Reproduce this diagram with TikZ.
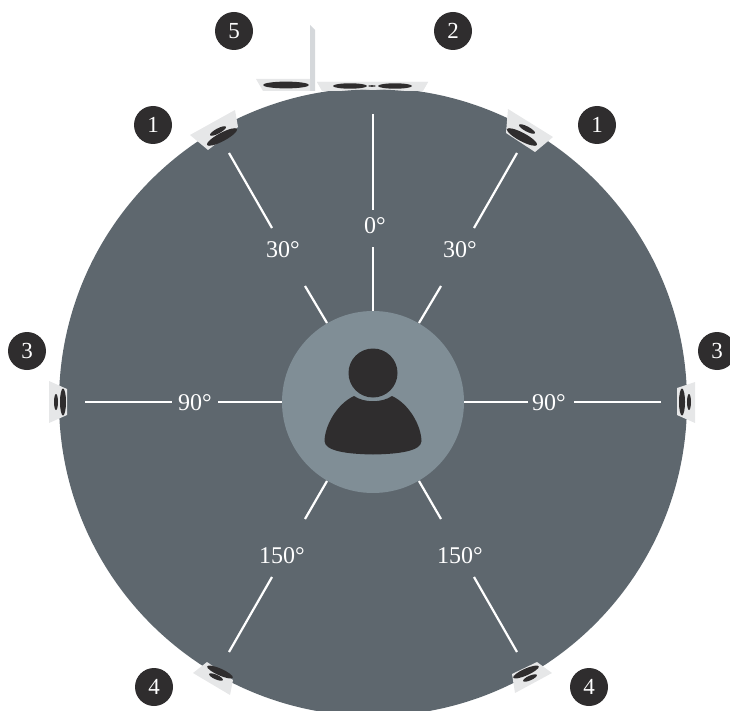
\documentclass[tikz,border=0pt]{standalone}
\usepackage{fontspec}
\setmainfont{Liberation Serif}
\definecolor{hall}{HTML}{5E676E}
\definecolor{seat}{HTML}{808E96}
\definecolor{ink}{HTML}{2F2D2E}
\definecolor{box}{HTML}{E6E7E8}
\definecolor{side}{HTML}{D5D8DB}
\tikzset{
  spk/.style={fill=box,draw=none},
  cone/.style={fill=ink,draw=none},
  spoke/.style={draw=white,line width=2.2pt},
  angle/.style={text=white,font=\fontsize{24}{24}\selectfont,inner sep=0pt},
  badge/.style={circle,fill=ink,text=white,minimum size=38pt,inner sep=0pt,font=\fontsize{23}{23}\selectfont}
}
\begin{document}
\begin{tikzpicture}[x=1pt,y=-1pt]
\useasboundingbox (0,0) rectangle (730,711);
\clip (0,0) rectangle (730,711);
% hall
\fill[hall] (373,402) circle[radius=314];
% speaker 5
\fill[side] (310,25) -- (315,30) -- (315,91) -- (310,91) -- cycle;
\fill[spk] (256,79) -- (310,79) -- (310,91) -- (263,91) -- cycle;
\fill[cone] (286,85) ellipse[x radius=23,y radius=3.4];
% speaker 2
\fill[spk] (317,82) -- (428,82) -- (423,91) -- (322,91) -- cycle;
\fill[hall] (373,402) circle[radius=312.5];
\fill[spk] (317,82) -- (428,82) -- (424,88.5) -- (400,88) -- (373,90) -- (346,88) -- (321,88.5) -- cycle;
\fill[cone] (350,86) ellipse[x radius=17,y radius=2.7];
\fill[cone] (395,86) ellipse[x radius=17,y radius=2.7];
\fill[cone] (372,86) ellipse[x radius=4,y radius=0.8];
% speakers 1
\fill[spk] (508,109) -- (553,137) -- (535,152) -- (506,133) -- cycle;
\fill[cone,rotate around={-28:(522,137)}] (522,137) ellipse[x radius=17,y radius=4.2];
\fill[cone,rotate around={-28:(527,129)}] (527,129) ellipse[x radius=9,y radius=2.5];
\fill[spk] (235,110) -- (238,127) -- (208,150) -- (190,135) -- cycle;
\fill[cone,rotate around={28:(222,137)}] (222,137) ellipse[x radius=17,y radius=4.2];
\fill[cone,rotate around={28:(218,131)}] (218,131) ellipse[x radius=9,y radius=2.5];
% speakers 3
\fill[spk] (49,381) -- (67,389) -- (67,415) -- (49,423) -- cycle;
\fill[cone] (63,402) ellipse[x radius=3,y radius=13.5];
\fill[cone] (56,402) ellipse[x radius=2,y radius=8];
\fill[spk] (695,382) -- (677,388) -- (677,415) -- (695,423) -- cycle;
\fill[cone] (682,402) ellipse[x radius=3,y radius=13.5];
\fill[cone] (689,402) ellipse[x radius=2,y radius=8];
% speakers 4
\fill[spk] (207,662) -- (193,673) -- (230,695) -- (233,680) -- cycle;
\fill[cone,rotate around={-24:(220,672)}] (220,672) ellipse[x radius=14,y radius=3.4];
\fill[cone,rotate around={-24:(216,677)}] (216,677) ellipse[x radius=7.5,y radius=2.3];
\fill[spk] (537,662) -- (552,673) -- (515,693) -- (512,674) -- cycle;
\fill[cone,rotate around={24:(526,672)}] (526,672) ellipse[x radius=14,y radius=3.4];
\fill[cone,rotate around={24:(530,678)}] (530,678) ellipse[x radius=7.5,y radius=2.3];
% listener
\node[circle,fill=seat,minimum size=182pt,inner sep=0pt] (seat) at (373,402) {};
\node[circle,fill=ink,minimum size=49pt,inner sep=0pt] (head) at (373,373) {};
\fill[ink] (354,396) .. controls (364,403) and (382,403) .. (392,396)
  .. controls (409,404) and (421,425) .. (421.5,441)
  .. controls (421,451) and (400,454) .. (373,454.5)
  .. controls (346,454) and (325,451) .. (324.5,441)
  .. controls (325,425) and (337,404) .. (354,396) -- cycle;
% angle labels
\node[angle] (a0) at (375,226) {0°};
\node[angle] (a30l) at (283,250) {30°};
\node[angle] (a30r) at (460,250) {30°};
\node[angle] (a90l) at (195,402.5) {90°};
\node[angle] (a90r) at (549,402.5) {90°};
\node[angle] (a150l) at (282,556) {150°};
\node[angle] (a150r) at (460,556) {150°};
% spoke ends
\coordinate (c0a) at (373,114); \coordinate (c0b) at (373,210);
\coordinate (c0c) at (373,247); \coordinate (c0d) at (373,311);
\coordinate (l1a) at (229,153); \coordinate (l1b) at (272,228);
\coordinate (l1c) at (305,286); \coordinate (l1d) at (327,323);
\coordinate (r1a) at (517,153); \coordinate (r1b) at (474,228);
\coordinate (r1c) at (441,286); \coordinate (r1d) at (419,323);
\coordinate (l3a) at (85,402); \coordinate (l3b) at (172,402);
\coordinate (l3c) at (218,402); \coordinate (l3d) at (282,402);
\coordinate (r3a) at (661,402); \coordinate (r3b) at (574,402);
\coordinate (r3c) at (528,402); \coordinate (r3d) at (464,402);
\coordinate (l4a) at (229,652); \coordinate (l4b) at (272,577);
\coordinate (l4c) at (305,519); \coordinate (l4d) at (327,481);
\coordinate (r4a) at (517,652); \coordinate (r4b) at (474,577);
\coordinate (r4c) at (441,519); \coordinate (r4d) at (419,481);
\foreach \s in {c0,l1,r1,l3,r3,l4,r4}{
  \draw[spoke] (\s a) -- (\s b);
  \draw[spoke] (\s c) -- (\s d);
}
% badges
\node[badge] (b1l) at (153,125) {1};
\node[badge] (b1r) at (597,125) {1};
\node[badge] (b5) at (234,31) {5};
\node[badge] (b2) at (453,31) {2};
\node[badge] (b3l) at (27,351) {3};
\node[badge] (b3r) at (717,351) {3};
\node[badge] (b4l) at (154,687) {4};
\node[badge] (b4r) at (589,687) {4};
\end{tikzpicture}
\end{document}
